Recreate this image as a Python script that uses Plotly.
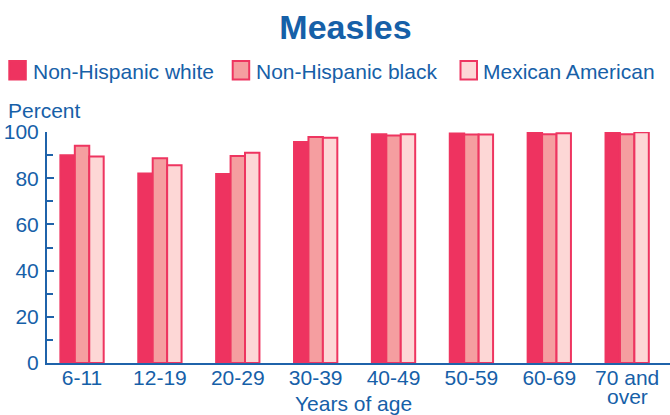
import plotly.graph_objects as go

# Share (%) with measles antibodies, by age group and race/ethnicity
age_groups = ["6-11", "12-19", "20-29", "30-39", "40-49", "50-59", "60-69", "70 and over"]
tick_line1 = ["6-11", "12-19", "20-29", "30-39", "40-49", "50-59", "60-69", "70 and"]
tick_line2 = ["", "", "", "", "", "", "", "over"]

series_names = ["Non-Hispanic white", "Non-Hispanic black", "Mexican American"]
white_values = [89.9, 82.0, 81.8, 95.7, 99.0, 99.4, 99.9, 99.7]
black_values = [94.0, 88.6, 89.6, 97.8, 98.5, 98.9, 99.0, 99.0]
mexican_values = [89.4, 85.6, 91.0, 97.5, 99.0, 98.9, 99.5, 99.9]

fill_colors = ["#EE3360", "#F59EA0", "#FDD7D6"]
edge_color = "#EE3560"
text_blue = "#1660A8"
axis_blue = "#1F63AA"
font_family = "Liberation Sans, Arial, Helvetica, sans-serif"

W, H = 670, 415
M_L, M_R, M_T, M_B = 47, 0, 132, 52
plot_w = W - M_L - M_R
plot_h = H - M_T - M_B


def px_x(px):
    return (px - M_L) / plot_w


def px_y(py):
    return (H - M_B - py) / plot_h


fig = go.Figure()
for name, vals, col in zip(series_names, [white_values, black_values, mexican_values], fill_colors):
    fig.add_trace(go.Bar(
        x=age_groups, y=vals, name=name,
        marker=dict(color=col, line=dict(color=edge_color, width=2)),
        showlegend=False,
    ))

annotations = []
shapes = []

# Legend drawn as swatches plus labels in a single row
legend_swatch_x = [9.3, 232.7, 460.5]
legend_text_x = [31.0, 253.5, 481.0]
for name, col, sx, tx in zip(series_names, fill_colors, legend_swatch_x, legend_text_x):
    shapes.append(dict(
        type="rect", xref="paper", yref="paper",
        x0=px_x(sx), x1=px_x(sx + 16.5), y0=px_y(79.5), y1=px_y(61),
        fillcolor=col, line=dict(color=edge_color, width=2), layer="above",
    ))
    annotations.append(dict(
        text=name, xref="paper", yref="paper", x=px_x(tx), y=px_y(71.5),
        xanchor="left", yanchor="middle", showarrow=False,
        font=dict(size=21, color=text_blue, family=font_family),
    ))

# Y axis caption
annotations.append(dict(
    text="Percent", xref="paper", yref="paper", x=px_x(6), y=px_y(110.5),
    xanchor="left", yanchor="middle", showarrow=False,
    font=dict(size=21, color=text_blue, family=font_family),
))

# Second line of multi-line tick labels
for cat, extra in zip(age_groups, tick_line2):
    if extra:
        annotations.append(dict(
            text=extra, xref="x", yref="paper", x=cat, y=px_y(396),
            xanchor="center", yanchor="middle", showarrow=False,
            font=dict(size=21, color=text_blue, family=font_family),
        ))

# X axis caption
annotations.append(dict(
    text="Years of age", xref="paper", yref="paper", x=px_x(353.5), y=px_y(403),
    xanchor="center", yanchor="middle", showarrow=False,
    font=dict(size=21, color=text_blue, family=font_family),
))

fig.update_layout(
    width=W, height=H,
    margin=dict(l=M_L, r=M_R, t=M_T, b=M_B, pad=0),
    paper_bgcolor="white", plot_bgcolor="white",
    barmode="group", bargap=0.444, bargroupgap=0,
    font=dict(family=font_family, color=text_blue, size=21),
    title=dict(
        text="<b>Measles</b>", x=345.5 / W, xref="container", xanchor="center",
        y=1 - 27.5 / H, yref="container", yanchor="middle",
        font=dict(size=34, color=text_blue, family=font_family),
    ),
    annotations=annotations,
    shapes=shapes,
    showlegend=False,
)

fig.update_xaxes(
    type="category", range=[-0.45, 7.55],
    tickvals=age_groups, ticktext=tick_line1,
    showline=True, linecolor=axis_blue, linewidth=2,
    ticks="", showgrid=False, zeroline=False, ticklabelstandoff=-5,
    tickfont=dict(size=21, color=text_blue, family=font_family),
)
fig.update_yaxes(
    range=[0, 100], tickvals=[0, 20, 40, 60, 80, 100],
    showline=True, linecolor=axis_blue, linewidth=2,
    ticks="inside", ticklen=7, tickwidth=2, tickcolor=axis_blue,
    minor=dict(dtick=10, ticks="inside", ticklen=6, tickwidth=2, tickcolor=axis_blue),
    showgrid=False, zeroline=False, ticklabelstandoff=2,
    tickfont=dict(size=21, color=text_blue, family=font_family),
)

fig.write_html("out.html")
